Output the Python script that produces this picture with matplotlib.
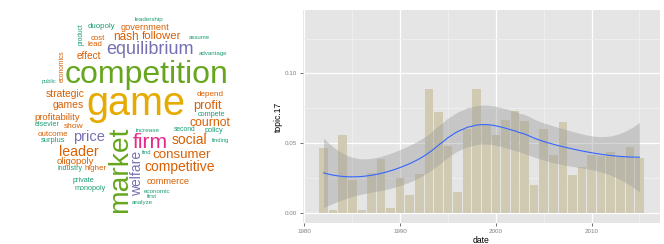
import numpy as np
import matplotlib
matplotlib.use("Agg")
import matplotlib.pyplot as plt

plt.rcParams["font.family"] = ["Liberation Sans", "DejaVu Sans"]

# ---- data: topic 17 share per year ----
years = np.arange(1982, 2016)
topic17 = [
    0.0464, 0.0017, 0.0555, 0.0234, 0.0019, 0.0285, 0.0385, 0.0038,
    0.0249, 0.0127, 0.0280, 0.0885, 0.0720, 0.0480, 0.0150, 0.0598,
    0.0885, 0.0630, 0.0557, 0.0665, 0.0732, 0.0658, 0.0203, 0.0598,
    0.0414, 0.0648, 0.0270, 0.0330, 0.0414, 0.0410, 0.0435, 0.0410,
    0.0470, 0.0392,
]

# ---- data: word cloud ----
words = [
    "game", "competition", "market", "firm", "equilibrium", "price",
    "social", "consumer", "competitive", "leader", "welfare", "cournot",
    "profit", "nash", "follower", "strategic", "games", "effect",
    "oligopoly", "profitability", "commerce", "government", "show",
    "outcome", "depend", "higher", "duopoly", "cost", "lead", "surplus",
    "compete", "elsevier", "policy", "private", "monopoly", "industry",
    "second", "product", "economics", "increase", "economic", "first",
    "analyze", "leadership", "assume", "advantage", "public", "finding",
    "find",
]
word_color = [
    "yellow", "green", "green", "pink", "purple", "purple",
    "orange", "orange", "orange", "orange", "purple", "orange",
    "orange", "orange", "orange", "orange", "orange", "orange",
    "orange", "orange", "orange", "orange", "orange",
    "orange", "orange", "orange", "teal", "orange", "orange", "teal",
    "teal", "teal", "teal", "teal", "teal", "teal",
    "teal", "teal", "orange", "teal", "teal", "teal",
    "teal", "teal", "teal", "teal", "teal", "teal",
    "teal",
]

# layout of the cloud (pixel centre x, y, font size, rotation)
cloud_layout = {
    "game": (136, 100, 28.5, 0), "competition": (147, 71, 23, 0),
    "market": (120, 170, 20.3, 90), "firm": (150, 140, 15.2, 0),
    "equilibrium": (150, 48, 13, 0), "price": (89, 136, 10.5, 0),
    "social": (189, 138, 10.0, 0), "consumer": (182, 153, 9.6, 0),
    "competitive": (180, 166, 10.0, 0), "leader": (79, 151, 10.2, 0),
    "welfare": (137, 173, 10.0, 90), "cournot": (210, 121, 8.8, 0),
    "profit": (207, 104, 9.2, 0), "nash": (126, 36, 8.5, 0),
    "follower": (162, 35, 8.2, 0), "strategic": (65, 93, 7.4, 0),
    "games": (68, 104, 7.5, 0), "effect": (89, 55, 7.2, 0),
    "oligopoly": (75, 161, 6.8, 0), "profitability": (57, 116, 6.8, 0),
    "commerce": (168, 181, 6.7, 0), "government": (145, 26, 6.6, 0),
    "show": (74, 125, 6.0, 0), "outcome": (53, 133.5, 5.8, 0),
    "depend": (210, 93, 5.9, 0), "higher": (96, 168, 5.8, 0),
    "duopoly": (101, 26, 5.7, 0), "cost": (98, 37, 5.6, 0),
    "lead": (95, 44, 5.7, 0), "surplus": (53, 140, 5.4, 0),
    "compete": (212, 113, 5.2, 0), "elsevier": (47, 124, 5.1, 0),
    "policy": (214, 129, 5.3, 0), "private": (83, 180, 5.2, 0),
    "monopoly": (90, 188, 5.2, 0), "industry": (70, 168, 5.0, 0),
    "second": (185, 128.5, 4.9, 0), "product": (81, 34, 4.7, 90),
    "economics": (62, 66, 4.8, 90), "increase": (148, 130, 4.6, 0),
    "economic": (157, 191, 4.5, 0), "first": (152, 196, 4.5, 0),
    "analyze": (142, 202, 4.4, 0), "leadership": (149, 19, 4.5, 0),
    "assume": (199, 37, 4.3, 0), "advantage": (213, 53, 4.4, 0),
    "public": (49, 81, 4.1, 0), "finding": (221, 140, 4.2, 0),
    "find": (147, 152, 4.2, 0),
}
palette = {"teal": "#1B9E77", "orange": "#D95F02", "purple": "#7570B3",
           "pink": "#E7298A", "green": "#66A61E", "yellow": "#E6AB02"}


def loess_fit(x, y, xs, span=0.75):
    """local quadratic loess (tricube weights) with 95% confidence band"""
    x = np.asarray(x, float)
    y = np.asarray(y, float)
    n = len(x)
    q = int(np.floor(n * span))

    def weights_row(x0):
        d = np.abs(x - x0)
        h = np.sort(d)[q - 1]
        w = np.clip(1 - (d / h) ** 3, 0, None) ** 3
        X = np.column_stack([np.ones(n), x - x0, (x - x0) ** 2])
        XtW = X.T * w
        return np.linalg.solve(XtW @ X, XtW)[0]

    L = np.array([weights_row(x0) for x0 in x])
    resid = y - L @ y
    M = (np.eye(n) - L).T @ (np.eye(n) - L)
    delta1 = np.trace(M)
    delta2 = np.trace(M @ M)
    sigma = np.sqrt(np.sum(resid ** 2) / delta1)
    df = delta1 ** 2 / delta2
    # t quantile (0.975) via Cornish-Fisher expansion
    z = 1.959964
    t = z + (z ** 3 + z) / (4 * df) + (5 * z ** 5 + 16 * z ** 3 + 3 * z) / (96 * df ** 2)
    rows = np.array([weights_row(x0) for x0 in xs])
    fit = rows @ y
    se = sigma * np.sqrt(np.sum(rows ** 2, axis=1))
    return fit, fit - t * se, fit + t * se


fig = plt.figure(figsize=(6.64, 2.44), dpi=100)

# ---- word cloud ----
axc = fig.add_axes([0, 0, 260 / 664, 1])
axc.set_xlim(0, 260)
axc.set_ylim(244, 0)
axc.axis("off")
for w, c in zip(words, word_color):
    cx, cy, fs, rot = cloud_layout[w]
    axc.text(cx, cy, w, fontsize=fs, color=palette[c], rotation=rot,
             ha="center", va="center_baseline" if rot == 0 else "center")

# ---- bar chart with loess smooth ----
ax = fig.add_axes([303 / 664, 21 / 244, 357 / 664, 213 / 244])
ax.set_facecolor("#E5E5E5")
for s in ax.spines.values():
    s.set_visible(False)

ax.set_xticks([1980, 1990, 2000, 2010])
ax.set_xticks([1985, 1995, 2005, 2015], minor=True)
ax.set_yticks([0.0, 0.05, 0.10])
ax.set_yticks([0.025, 0.075, 0.125], minor=True)
ax.set_yticklabels(["0.00", "0.05", "0.10"])
ax.grid(which="major", color="white", linewidth=0.9)
ax.grid(which="minor", color="#F2F2F2", linewidth=0.5)
ax.set_axisbelow(True)
ax.tick_params(which="major", length=2, width=0.5, color="#333333",
               labelsize=4.5, labelcolor="#7F7F7F", pad=2)
ax.tick_params(which="minor", length=0)

ax.bar(years, topic17, width=0.9, color="#D0CAB2", zorder=2)

xs = np.linspace(years.min(), years.max(), 80)
fit, lo, hi = loess_fit(years, topic17, xs)
ax.fill_between(xs, lo, hi, color="#999999", alpha=0.4, linewidth=0, zorder=3)
ax.plot(xs, fit, color="#3366FF", linewidth=0.8, zorder=4)

ax.set_xlim(1979.85, 2017.15)
ax.set_ylim(-0.0073, 0.1455)
ax.set_xlabel("date", fontsize=6.2)
ax.set_ylabel("topic.17", fontsize=6.2)
ax.xaxis.set_label_coords(0.5, -0.06)
ax.yaxis.set_label_coords(-0.056, 0.5)

fig.savefig("out.png", dpi=100)
